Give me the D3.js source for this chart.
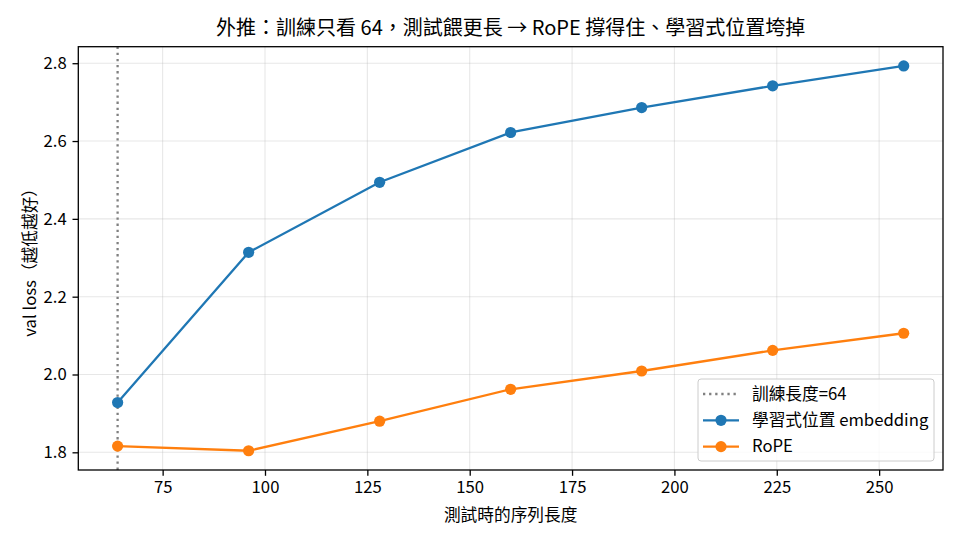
<!DOCTYPE html>
<html>
<head>
<meta charset="utf-8">
<script src="https://cdn.jsdelivr.net/npm/d3@7"></script>
<style>
  body { margin: 0; background: #fff; }
  svg { font-family: "Noto Sans CJK TC", "Noto Sans", sans-serif; }
</style>
</head>
<body>
<svg id="chart"></svg>
<script>
// Sequence lengths used at test time
const seqLens = [64, 96, 128, 160, 192, 224, 256];
// val loss for each position method
const learnedLoss = [1.928, 2.314, 2.494, 2.622, 2.686, 2.742, 2.793];
const ropeLoss = [1.816, 1.804, 1.880, 1.962, 2.009, 2.062, 2.106];
const trainLen = 64;
const xTicks = [75, 100, 125, 150, 175, 200, 225, 250];
const yTicks = [1.8, 2.0, 2.2, 2.4, 2.6, 2.8];

const width = 960, height = 540;
const margin = { top: 46.7, right: 17, bottom: 70, left: 78.3 };
const fs = '16.7px';

const svg = d3.select('#chart')
  .attr('width', width)
  .attr('height', height);

// matplotlib-style 5% padding on data range
const xPad = (d3.max(seqLens) - d3.min(seqLens)) * 0.05;
const allY = learnedLoss.concat(ropeLoss);
const yPad = (d3.max(allY) - d3.min(allY)) * 0.05;

const x = d3.scaleLinear()
  .domain([d3.min(seqLens) - xPad, d3.max(seqLens) + xPad])
  .range([margin.left, width - margin.right]);

const y = d3.scaleLinear()
  .domain([d3.min(allY) - yPad, d3.max(allY) + yPad])
  .range([height - margin.bottom, margin.top]);

// grid
svg.append('g')
  .selectAll('line')
  .data(xTicks)
  .enter()
  .append('line')
  .attr('x1', d => x(d)).attr('x2', d => x(d))
  .attr('y1', margin.top).attr('y2', height - margin.bottom)
  .attr('stroke', '#b0b0b0').attr('stroke-opacity', 0.3).attr('stroke-width', 1.1);

svg.append('g')
  .selectAll('line')
  .data(yTicks)
  .enter()
  .append('line')
  .attr('x1', margin.left).attr('x2', width - margin.right)
  .attr('y1', d => y(d)).attr('y2', d => y(d))
  .attr('stroke', '#b0b0b0').attr('stroke-opacity', 0.3).attr('stroke-width', 1.1);

// training length marker
svg.append('line')
  .attr('x1', x(trainLen)).attr('x2', x(trainLen))
  .attr('y1', margin.top).attr('y2', height - margin.bottom)
  .attr('stroke', 'gray')
  .attr('stroke-width', 2.3)
  .attr('stroke-dasharray', '2.3,3.8');

// series
const series = [
  { name: '學習式位置 embedding', values: learnedLoss, color: '#1f77b4' },
  { name: 'RoPE', values: ropeLoss, color: '#ff7f0e' }
];

const line = d3.line()
  .x((d, i) => x(seqLens[i]))
  .y(d => y(d));

series.forEach(s => {
  svg.append('path')
    .datum(s.values)
    .attr('fill', 'none')
    .attr('stroke', s.color)
    .attr('stroke-width', 2.3)
    .attr('d', line);

  svg.append('g')
    .selectAll('circle')
    .data(s.values)
    .enter()
    .append('circle')
    .attr('cx', (d, i) => x(seqLens[i]))
    .attr('cy', d => y(d))
    .attr('r', 5.6)
    .attr('fill', s.color);
});

// axes
const xAxis = svg.append('g')
  .attr('transform', `translate(0,${height - margin.bottom})`)
  .call(d3.axisBottom(x).tickValues(xTicks).tickSize(5.8).tickPadding(5.8));

const yAxis = svg.append('g')
  .attr('transform', `translate(${margin.left},0)`)
  .call(d3.axisLeft(y).tickValues(yTicks).tickFormat(d3.format('.1f')).tickSize(5.8).tickPadding(5.8));

[xAxis, yAxis].forEach(a => {
  a.select('.domain').remove();
  a.selectAll('.tick line').attr('stroke', '#000').attr('stroke-width', 1.3);
  a.selectAll('.tick text')
    .attr('fill', '#000')
    .style('font-size', fs)
    .style('font-family', '"Noto Sans CJK TC", sans-serif');
});

// frame
svg.append('rect')
  .attr('x', margin.left)
  .attr('y', margin.top)
  .attr('width', width - margin.right - margin.left)
  .attr('height', height - margin.bottom - margin.top)
  .attr('fill', 'none')
  .attr('stroke', '#000')
  .attr('stroke-width', 1.3);

// title and labels
svg.append('text')
  .attr('x', (margin.left + width - margin.right) / 2)
  .attr('y', 35)
  .attr('text-anchor', 'middle')
  .style('font-size', '20px')
  .text('外推：訓練只看 64，測試餵更長 → RoPE 撐得住、學習式位置垮掉');

svg.append('text')
  .attr('x', (margin.left + width - margin.right) / 2)
  .attr('y', 521)
  .attr('text-anchor', 'middle')
  .style('font-size', fs)
  .text('測試時的序列長度');

svg.append('text')
  .attr('transform', `translate(36,${(margin.top + height - margin.bottom) / 2}) rotate(-90)`)
  .attr('text-anchor', 'middle')
  .style('font-size', fs)
  .text('val loss（越低越好）');

// legend
const legend = svg.append('g').attr('transform', 'translate(698,379)');
legend.append('rect')
  .attr('width', 236).attr('height', 82)
  .attr('rx', 3)
  .attr('fill', '#fff').attr('fill-opacity', 0.8)
  .attr('stroke', '#ccc').attr('stroke-width', 1);

const legendItems = [
  { name: '訓練長度=64', color: 'gray', dotted: true },
  ...series
];

legendItems.forEach((d, i) => {
  const row = legend.append('g').attr('transform', `translate(0,${15 + i * 26.3})`);
  row.append('line')
    .attr('x1', 5).attr('x2', 41)
    .attr('stroke', d.color)
    .attr('stroke-width', 2.3)
    .attr('stroke-dasharray', d.dotted ? '2.3,3.8' : null);
  if (!d.dotted) {
    row.append('circle').attr('cx', 23).attr('r', 5.6).attr('fill', d.color);
  }
  row.append('text')
    .attr('x', 54)
    .attr('dy', '0.35em')
    .style('font-size', fs)
    .text(d.name);
});
</script>
</body>
</html>
